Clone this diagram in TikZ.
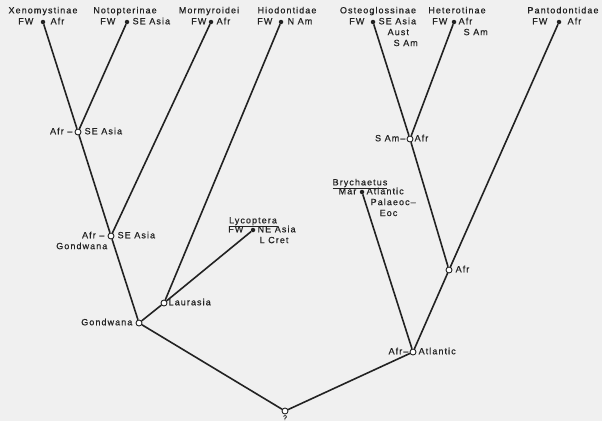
\documentclass[tikz,border=0pt]{standalone}
\usepackage{fontspec}
\setmainfont{Liberation Sans}[LetterSpace=12,FakeBold=0.6]
\usepackage{tikz}
\usetikzlibrary{positioning}
\definecolor{paper}{RGB}{240,240,240}
\definecolor{ink}{RGB}{34,34,34}

\begin{document}
\begin{tikzpicture}[x=1pt, y=-1pt, node distance=2pt,
  tip/.style={circle,fill=ink,inner sep=0pt,minimum size=4.5pt},
  anc/.style={circle,draw=ink,fill=white,line width=0.9pt,inner sep=0pt,minimum size=6pt},
  lbl/.style={inner sep=1pt,text height=6.5pt,text depth=2pt,text=ink,font=\fontsize{9}{10}\selectfont},
  branch/.style={draw=ink,line width=1.6pt}]
  \path[use as bounding box,fill=paper] (0,0) rectangle (602,421);

  \node[tip] (xeno) at (43,22) {};
  \node[tip] (noto) at (127,22) {};
  \node[tip] (morm) at (211,22) {};
  \node[tip] (hiod) at (281,22) {};
  \node[tip] (osteo) at (373,22) {};
  \node[tip] (hetero) at (454,22) {};
  \node[tip] (panto) at (559,22) {};
  \node[tip] (lyco) at (253,230) {};
  \node[tip] (bryc) at (362,192) {};

  \node[anc] (afsea) at (78,132) {};
  \node[anc] (gondsea) at (111,236) {};
  \node[anc] (gond) at (139,323) {};
  \node[anc] (laur) at (164,303) {};
  \node[anc] (samafr) at (410,139) {};
  \node[anc] (afr) at (449,270) {};
  \node[anc] (afatl) at (413,352) {};
  \node[anc] (root) at (285,411) {};

  \node[lbl, above=3pt of xeno] (xenoH) {Xenomystinae};
  \node[lbl, left=6pt of xeno] (xenoW) {FW};
  \node[lbl, right=4pt of xeno] (xenoE) {Afr};
  \node[lbl, above=3pt of noto, xshift=-2pt] (notoH) {Notopterinae};
  \node[lbl, left=8pt of noto] (notoW) {FW};
  \node[lbl, right=2pt of noto] (notoE) {SE Asia};
  \node[lbl, above=3pt of morm, xshift=-2pt] (mormH) {Mormyroidei};
  \node[lbl, left=1pt of morm] (mormW) {FW};
  \node[lbl, right=2pt of morm] (mormE) {Afr};
  \node[lbl, above=3pt of hiod, xshift=6pt] (hiodH) {Hiodontidae};
  \node[lbl, left=5pt of hiod] (hiodW) {FW};
  \node[lbl, right=3pt of hiod] (hiodE) {N Am};
  \node[lbl, above=3pt of osteo, xshift=5pt] (osteoH) {Osteoglossinae};
  \node[lbl, left=5pt of osteo] (osteoW) {FW};
  \node[lbl, right=2pt of osteo] (osteoE) {SE Asia};
  \node[lbl, below=0pt of osteoE.south west, anchor=north west, xshift=9pt] (osteoE2) {Aust};
  \node[lbl, below=0pt of osteoE2.south west, anchor=north west, xshift=6pt] (osteoE3) {S Am};
  \node[lbl, above=3pt of hetero, xshift=3pt] (heteroH) {Heterotinae};
  \node[lbl, left=3pt of hetero] (heteroW) {FW};
  \node[lbl, right=1pt of hetero] (heteroE) {Afr};
  \node[lbl, below=0pt of heteroE.south west, anchor=north west, xshift=5pt] (heteroE2) {S Am};
  \node[lbl, above=3pt of panto, xshift=4pt] (pantoH) {Pantodontidae};
  \node[lbl, left=8pt of panto] (pantoW) {FW};
  \node[lbl, right=5pt of panto] (pantoE) {Afr};

  \node[lbl, above=1pt of lyco] (lycoH) {\underline{Lycoptera}};
  \node[lbl, left=6pt of lyco] (lycoW) {FW};
  \node[lbl, right=1pt of lyco] (lycoE) {NE Asia};
  \node[lbl, below=0pt of lycoE.south west, anchor=north west, xshift=2pt] (lycoE2) {L Cret};
  \node[lbl, above=1pt of bryc, xshift=-2pt] (brycH) {\underline{Brychaetus}};
  \node[lbl, left=2pt of bryc] (brycW) {Mar};
  \node[lbl, right=1pt of bryc] (brycE) {Atlantic};
  \node[lbl, below=0pt of brycE.south west, anchor=north west, xshift=4pt] (brycE2) {Palaeoc–};
  \node[lbl, below=0pt of brycE2.south west, anchor=north west, xshift=9pt] (brycE3) {Eoc};

  \node[lbl, left=1pt of afsea] (afseaW) {Afr –};
  \node[lbl, right=2pt of afsea] (afseaE) {SE Asia};
  \node[lbl, left=2pt of gondsea] (gondseaW) {Afr –};
  \node[lbl, right=2pt of gondsea] (gondseaE) {SE Asia};
  \node[lbl, below=0pt of gondseaW.south east, anchor=north east, xshift=3pt] (gondseaS) {Gondwana};
  \node[lbl, left=2pt of gond] (gondW) {Gondwana};
  \node[lbl, right=0pt of laur] (laurE) {Laurasia};
  \node[lbl, left=0pt of samafr] (samafrW) {S Am–};
  \node[lbl, right=0pt of samafr] (samafrE) {Afr};
  \node[lbl, right=2pt of afr] (afrE) {Afr};
  \node[lbl, left=0pt of afatl] (afatlW) {Afr–};
  \node[lbl, right=1pt of afatl] (afatlE) {Atlantic};
  \node[lbl, below=0.5pt of root, inner sep=0pt, text height=5pt, text depth=0pt, font=\fontsize{7}{7}\selectfont] (rootS) {?};

  \draw[branch] (xeno) -- (afsea);
  \draw[branch] (noto) -- (afsea);
  \draw[branch] (afsea) -- (gondsea);
  \draw[branch] (morm) -- (gondsea);
  \draw[branch] (gondsea) -- (gond);
  \draw[branch] (hiod) -- (laur);
  \draw[branch] (lyco) -- (laur);
  \draw[branch] (laur) -- (gond);
  \draw[branch] (gond) -- (root);
  \draw[branch] (osteo) -- (samafr);
  \draw[branch] (hetero) -- (samafr);
  \draw[branch] (samafr) -- (afr);
  \draw[branch] (panto) -- (afr);
  \draw[branch] (afr) -- (afatl);
  \draw[branch] (bryc) -- (afatl);
  \draw[branch] (afatl) -- (root);
\end{tikzpicture}
\end{document}
